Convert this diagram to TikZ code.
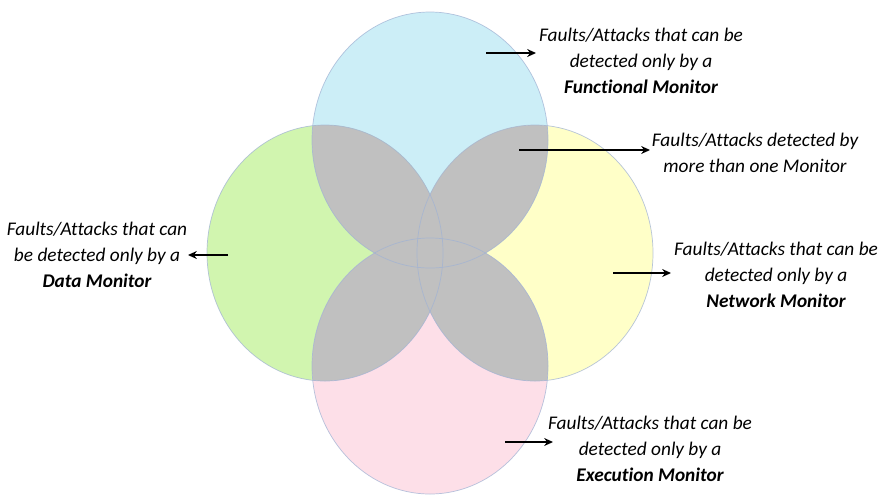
\documentclass[tikz,border=0pt]{standalone}
\usepackage{fontspec}
\setmainfont{Carlito}[Ligatures=NoCommon]
\usetikzlibrary{arrows.meta}
\definecolor{funcblue}{RGB}{204,238,247}
\definecolor{datagreen}{RGB}{209,245,175}
\definecolor{netyellow}{RGB}{255,255,200}
\definecolor{execpink}{RGB}{253,223,232}
\definecolor{overlapgray}{RGB}{192,192,192}
\definecolor{rimblue}{RGB}{160,178,212}
\tikzset{
  region/.style={x radius=118, y radius=128},
  rim/.style={draw=rimblue, line width=0.4pt, draw opacity=0.75},
  note/.style={align=center, font=\fontsize{11}{14.8}\selectfont\itshape, inner sep=0pt},
  pointer/.style={-{Stealth[length=5pt,width=4.5pt]}, line width=1pt, black}
}
\begin{document}
\begin{tikzpicture}[x=0.02cm, y=-0.02cm]
\useasboundingbox (0,0) rectangle (879,495);
\fill[white] (0,0) rectangle (879,495);

% centres of the four monitor regions
\coordinate (cF) at (430,140);
\coordinate (cD) at (325,253);
\coordinate (cN) at (535,253);
\coordinate (cE) at (430,366);

% pastel regions
\fill[funcblue]  (cF) ellipse [region];
\fill[datagreen] (cD) ellipse [region];
\fill[netyellow] (cN) ellipse [region];
\fill[execpink]  (cE) ellipse [region];

% every pairwise overlap in grey
\foreach \a/\b in {cF/cD, cF/cN, cF/cE, cD/cN, cD/cE, cN/cE}{
  \begin{scope}
    \clip (\a) ellipse [region];
    \fill[overlapgray] (\b) ellipse [region];
  \end{scope}
}

% thin outlines
\foreach \c in {cF,cD,cN,cE}{
  \draw[rim] (\c) ellipse [region];
}

% labels
\node[note] (lF) at (641,61) {Faults/Attacks that can be\\detected only by a\\\textbf{Functional Monitor}};
\node[note] (lM) at (755,153) {Faults/Attacks detected by\\more than one Monitor};
\node[note] (lN) at (776,275) {Faults/Attacks that can be\\detected only by a\\\textbf{Network Monitor}};
\node[note] (lD) at (97,255) {Faults/Attacks that can\\be detected only by a\\\textbf{Data Monitor}};
\node[note] (lE) at (650,449) {Faults/Attacks that can be\\detected only by a\\\textbf{Execution Monitor}};

% pointer ends
\coordinate (pF0) at (486,53);  \coordinate (pF1) at (536,53);
\coordinate (pM0) at (519,150); \coordinate (pM1) at (650,150);
\coordinate (pN0) at (613,273); \coordinate (pN1) at (671,273);
\coordinate (pD0) at (228,255); \coordinate (pD1) at (188,255);
\coordinate (pE0) at (505,442); \coordinate (pE1) at (553,442);

\draw[pointer] (pF0) -- (pF1);
\draw[pointer] (pM0) -- (pM1);
\draw[pointer] (pN0) -- (pN1);
\draw[pointer] (pD0) -- (pD1);
\draw[pointer] (pE0) -- (pE1);
\end{tikzpicture}
\end{document}
